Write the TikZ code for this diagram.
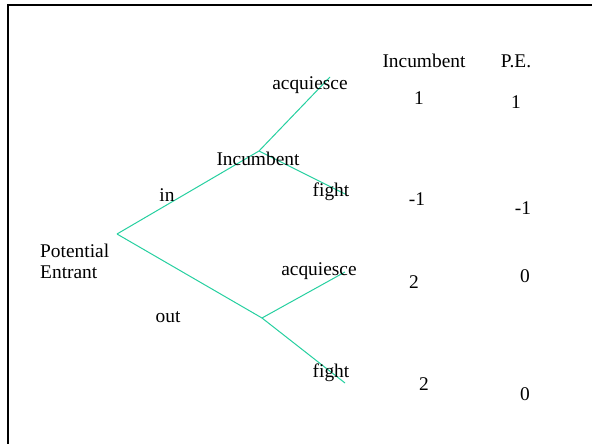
\documentclass[tikz,border=0pt]{standalone}
\usepackage{fontspec}
\setmainfont{Liberation Serif}
\definecolor{branch}{RGB}{38,208,160}
\begin{document}
\begin{tikzpicture}[x=1pt,y=-1pt,
  lbl/.style={inner sep=0pt,anchor=base,font=\fontsize{19.4}{23}\selectfont},
  edge/.style={draw=branch,line width=1pt},
  frame/.style={draw=black,line width=2.6pt}]
\path[use as bounding box] (0,0) rectangle (592,444);
\fill[white] (0,0) rectangle (592,444);
% frame (top and left sides visible)
\coordinate (fbl) at (8,446);
\coordinate (ftl) at (8,5);
\coordinate (ftr) at (594,5);
\draw[frame] (fbl) -- (ftl) -- (ftr);
% tree points
\coordinate (root) at (117,234);
\coordinate (up) at (259,151);
\coordinate (upA) at (330,77);
\coordinate (upF) at (345,194);
\coordinate (lo) at (262,318);
\coordinate (loA) at (345,272);
\coordinate (loF) at (345,383);
\draw[edge] (root) -- (up) -- (upA);
\draw[edge] (up) -- (upF);
\draw[edge] (root) -- (lo) -- (loA);
\draw[edge] (lo) -- (loF);
% labels
\node[lbl] (hInc) at (424,67) {Incumbent};
\node[lbl] (hPE) at (516,67) {P.E.};
\node[lbl] (aqTop) at (310,89) {acquiesce};
\node[lbl] (p1a) at (419,104) {1};
\node[lbl] (p1b) at (516,108) {1};
\node[lbl] (incMid) at (258,165) {Incumbent};
\node[lbl] (in) at (167,201) {in};
\node[lbl] (fTop) at (331,196) {fight};
\node[lbl] (p2a) at (417,205) {-1};
\node[lbl] (p2b) at (523,214) {-1};
\node[lbl,anchor=base west] (pot) at (40,257) {Potential};
\node[lbl,anchor=base west] (ent) at (40,278) {Entrant};
\node[lbl] (aqLow) at (319,275) {acquiesce};
\node[lbl] (p3a) at (414,288) {2};
\node[lbl] (p3b) at (525,282) {0};
\node[lbl] (out) at (168,322) {out};
\node[lbl] (fLow) at (331,377) {fight};
\node[lbl] (p4a) at (424,390) {2};
\node[lbl] (p4b) at (525,400) {0};
\end{tikzpicture}
\end{document}
